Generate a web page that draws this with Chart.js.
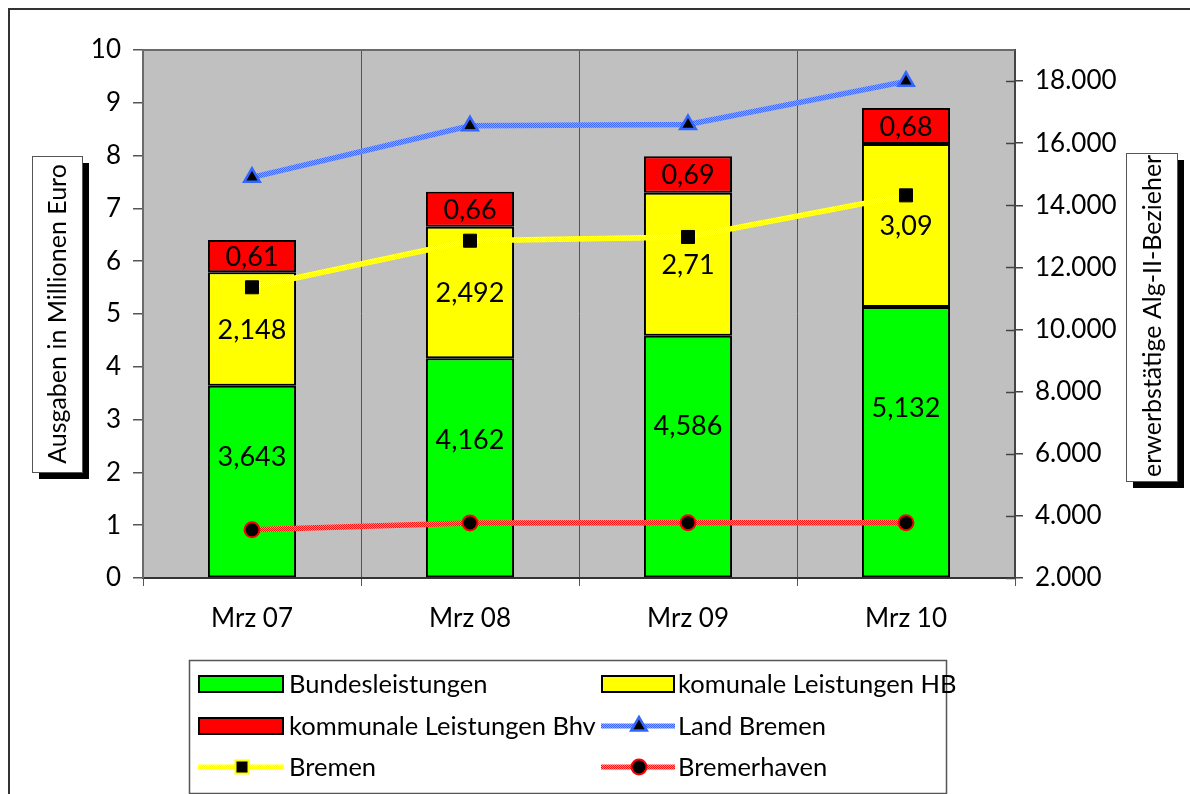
<!DOCTYPE html>
<html><head><meta charset="utf-8">
<script src="https://cdn.jsdelivr.net/npm/chart.js@4.4.0/dist/chart.umd.min.js"></script>
<style>html,body{margin:0;padding:0;background:#fff;}canvas{display:block;}</style>
</head><body>
<canvas id="c" width="1190" height="794"></canvas>
<script>
// ---- data ----
const categories = ['Mrz 07', 'Mrz 08', 'Mrz 09', 'Mrz 10'];
const bundesleistungen = [3.643, 4.162, 4.586, 5.132];
const komunaleHB = [2.148, 2.492, 2.71, 3.09];
const kommunaleBhv = [0.61, 0.66, 0.69, 0.68];
const landBremen = [14900, 16560, 16600, 17990];
const bremen = [11360, 12860, 12980, 14320];
const bremerhaven = [3550, 3770, 3780, 3780];
const leftTicks = [0, 1, 2, 3, 4, 5, 6, 7, 8, 9, 10];
const rightTicks = [2000, 4000, 6000, 8000, 10000, 12000, 14000, 16000, 18000];
const leftTitle = 'Ausgaben in Millionen Euro';
const rightTitle = 'erwerbstätige Alg-II-Bezieher';
const barLabels = ['Bundesleistungen', 'komunale Leistungen HB', 'kommunale Leistungen Bhv'];
const lineLabels = ['Land Bremen', 'Bremen', 'Bremerhaven'];

const FONT = 'Lato, "DejaVu Sans", sans-serif';

function makePattern(main, light) {
  const c = document.createElement('canvas');
  c.width = 2; c.height = 2;
  const g = c.getContext('2d');
  g.fillStyle = main; g.fillRect(0, 0, 2, 2);
  g.fillStyle = light; g.fillRect(1, 0, 1, 1); g.fillRect(0, 1, 1, 1);
  return g.createPattern(c, 'repeat');
}
const ctx = document.getElementById('c').getContext('2d');
const bluePat = makePattern('#3a66ff', '#8fa8ff');
const yellowPat = makePattern('#ffff00', '#ffffb0');
const redPat = makePattern('#ff1010', '#ff8a8a');

function deNum(v) {
  return String(v).replace(/\B(?=(\d{3})+(?!\d))/g, '.');
}

const barCommon = { type: 'bar', yAxisID: 'y', order: 2, borderColor: '#000', borderWidth: 2,
  borderSkipped: false, barPercentage: 0.404, categoryPercentage: 1 };
const lineCommon = { type: 'line', yAxisID: 'y1', order: 1, tension: 0, borderWidth: 5.5, fill: false };

const datasets = [
  Object.assign({}, barCommon, { label: barLabels[0], data: bundesleistungen, backgroundColor: '#00ff00', labelPos: 0.63 }),
  Object.assign({}, barCommon, { label: barLabels[1], data: komunaleHB, backgroundColor: '#ffff00', labelPos: 0.5 }),
  Object.assign({}, barCommon, { label: barLabels[2], data: kommunaleBhv, backgroundColor: '#ff0000', labelPos: 0.5 }),
  Object.assign({}, lineCommon, { label: lineLabels[0], data: landBremen, borderColor: bluePat,
    pointStyle: 'triangle', pointRadius: 9, pointBorderWidth: 2.5, pointBackgroundColor: '#000', pointBorderColor: '#3366ff' }),
  Object.assign({}, lineCommon, { label: lineLabels[1], data: bremen, borderColor: yellowPat,
    pointStyle: 'rect', pointRadius: 9.2, pointBorderWidth: 1, pointBackgroundColor: '#000', pointBorderColor: '#000' }),
  Object.assign({}, lineCommon, { label: lineLabels[2], data: bremerhaven, borderColor: redPat,
    pointStyle: 'circle', pointRadius: 7.5, pointBorderWidth: 2, pointBackgroundColor: '#000', pointBorderColor: '#ff0000' })
];

function fmt(v) { return String(v).replace('.', ','); }

const decorPlugin = {
  id: 'decor',
  beforeDraw(chart) {
    const c = chart.ctx, a = chart.chartArea;
    c.save();
    c.fillStyle = '#fff'; c.fillRect(0, 0, chart.width, chart.height);
    c.strokeStyle = '#333'; c.lineWidth = 2;
    c.strokeRect(9, 9, chart.width + 20, chart.height + 20);
    c.fillStyle = '#c0c0c0';
    c.fillRect(a.left, a.top, a.right - a.left, a.bottom - a.top);
    c.restore();
  },
  beforeDatasetsDraw(chart) {
    const c = chart.ctx, a = chart.chartArea;
    c.save();
    c.strokeStyle = '#6a6a6a'; c.lineWidth = 2;
    c.beginPath();
    c.moveTo(a.left, a.bottom); c.lineTo(a.left, a.top); c.lineTo(a.right, a.top);
    c.stroke();
    const y1 = chart.scales.y1;
    c.strokeStyle = '#444'; c.lineWidth = 1.5;
    y1.ticks.forEach(t => {
      const y = Math.round(y1.getPixelForValue(t.value)) + 0.5;
      c.beginPath(); c.moveTo(a.right - 9, y); c.lineTo(a.right, y); c.stroke();
    });
    c.restore();
  },
  afterDatasetDraw(chart, args) {
    const ds = chart.data.datasets[args.index];
    if (ds.type !== 'bar') return;
    const meta = args.meta, c = chart.ctx;
    c.save();
    c.font = '27px ' + FONT;
    c.fillStyle = '#000';
    c.textAlign = 'center';
    c.textBaseline = 'middle';
    meta.data.forEach((el, i) => {
      const p = el.getProps(['x', 'y', 'base'], true);
      const y = p.base + (p.y - p.base) * ds.labelPos;
      c.fillText(fmt(ds.data[i]), p.x, y + 1);
    });
    c.restore();
  },
  afterDraw(chart) {
    const c = chart.ctx;
    c.save();
    function titleBox(x, y, w, h, text, mode) {
      c.fillStyle = '#000';
      c.fillRect(x + 7, y + 7, w, h);
      c.fillStyle = '#fff';
      c.fillRect(x, y, w, h);
      c.strokeStyle = '#555'; c.lineWidth = 1;
      c.strokeRect(x + 0.5, y + 0.5, w, h);
      c.save();
      c.beginPath(); c.rect(x + 1, y + 1, w - 1, h - 1); c.clip();
      c.translate(x + w / 2 + 1, mode === 'center' ? y + h / 2 : y + h - 4);
      c.rotate(-Math.PI / 2);
      c.font = '25px ' + FONT;
      c.fillStyle = '#000';
      c.textAlign = mode === 'center' ? 'center' : 'left';
      c.textBaseline = 'middle';
      c.fillText(text, 0, 0);
      c.restore();
    }
    titleBox(32, 156, 50, 316, leftTitle, 'center');
    titleBox(1126, 153, 51, 328, rightTitle, 'start');

    const lx = 189, ly = 660, lw = 757, lh = 133;
    c.fillStyle = '#fff';
    c.fillRect(lx, ly, lw, lh);
    c.strokeStyle = '#555'; c.lineWidth = 1.5;
    c.strokeRect(lx + 0.5, ly + 0.5, lw, lh);
    const order = [0, 1, 2, 3, 4, 5];
    const cols = [{ x: 199, w: 84, tx: 289 }, { x: 602, w: 72, tx: 678 }];
    const rows = [684, 726, 767];
    order.forEach((di, k) => {
      const ds = chart.data.datasets[di];
      const col = cols[k % 2], ry = rows[Math.floor(k / 2)];
      if (ds.type === 'bar') {
        c.fillStyle = ds.backgroundColor;
        c.fillRect(col.x, ry - 8, col.w, 16);
        c.strokeStyle = '#000'; c.lineWidth = 2;
        c.strokeRect(col.x, ry - 8, col.w, 16);
      } else {
        c.strokeStyle = ds.borderColor; c.lineWidth = 5;
        c.beginPath(); c.moveTo(col.x - 1, ry); c.lineTo(col.x + col.w + 1, ry); c.stroke();
        const mx = col.x + col.w / 2 + 1;
        const r = ds.pointRadius;
        c.fillStyle = ds.pointBackgroundColor;
        c.strokeStyle = ds.pointBorderColor;
        c.lineWidth = ds.pointBorderWidth;
        c.beginPath();
        if (ds.pointStyle === 'triangle') {
          c.moveTo(mx, ry - r);
          c.lineTo(mx + r * 0.866, ry + r / 2);
          c.lineTo(mx - r * 0.866, ry + r / 2);
          c.closePath();
        } else if (ds.pointStyle === 'rect') {
          const s = r * Math.SQRT1_2;
          c.rect(mx - s, ry - s, 2 * s, 2 * s);
          c.strokeStyle = '#ffff00'; c.lineWidth = 2;
        } else {
          c.arc(mx, ry, r, 0, Math.PI * 2);
        }
        c.fill(); c.stroke();
      }
      c.fillStyle = '#000';
      c.font = '25.5px ' + FONT;
      c.textAlign = 'left'; c.textBaseline = 'middle';
      c.fillText(ds.label, col.tx, ry + 1);
    });
    c.restore();
  }
};

new Chart(ctx, {
  data: { labels: categories, datasets: datasets },
  plugins: [decorPlugin],
  options: {
    responsive: false,
    animation: false,
    layout: { padding: { top: 50, bottom: 136, left: 0, right: 0 } },
    plugins: { legend: { display: false }, tooltip: { enabled: false } },
    scales: {
      x: {
        stacked: true,
        offset: true,
        grid: { offset: true, drawOnChartArea: true, color: '#555', lineWidth: 1, tickLength: 8 },
        border: { display: true, color: '#333', width: 2 },
        ticks: { font: { family: FONT, size: 26 }, color: '#000', padding: 17 },
        afterFit(s) { s.height = 80; }
      },
      y: {
        stacked: true,
        position: 'left',
        min: 0, max: 10,
        afterBuildTicks(s) { s.ticks = leftTicks.map(v => ({ value: v })); },
        grid: { drawOnChartArea: false, color: '#555', lineWidth: 1.5, tickLength: 10 },
        border: { display: true, color: '#6a6a6a', width: 2 },
        ticks: { font: { family: FONT, size: 26 }, color: '#000', padding: 12 },
        afterFit(s) { s.width = 143; }
      },
      y1: {
        position: 'right',
        min: 2000, max: 19000,
        afterBuildTicks(s) { s.ticks = rightTicks.map(v => ({ value: v })); },
        grid: { drawOnChartArea: false, color: '#444', lineWidth: 1.5, tickLength: 8 },
        border: { display: true, color: '#444', width: 2 },
        ticks: { font: { family: FONT, size: 26 }, color: '#000', padding: 12, callback: v => deNum(v) },
        afterFit(s) { s.width = 175; }
      }
    }
  }
});
</script>
</body></html>
